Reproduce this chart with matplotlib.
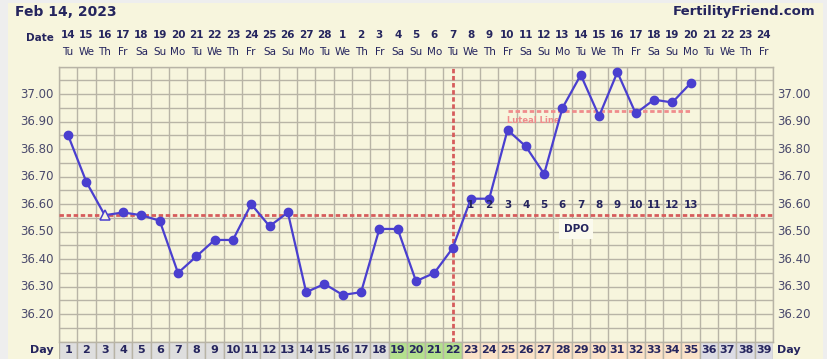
import matplotlib
matplotlib.use("Agg")
import matplotlib.pyplot as plt
from matplotlib.patches import Rectangle

# ---------------- data ----------------
days = list(range(1, 40))
dates = [str(d) for d in range(14, 29)] + [str(d) for d in range(1, 25)]
weekdays = (["Tu", "We", "Th", "Fr", "Sa", "Su", "Mo"] * 6)[:39]
temp_days = list(range(1, 36))
temps = [36.85, 36.68, 36.56, 36.57, 36.56, 36.54, 36.35, 36.41, 36.47, 36.47,
         36.60, 36.52, 36.57, 36.28, 36.31, 36.27, 36.28, 36.51, 36.51, 36.32,
         36.35, 36.44, 36.62, 36.62, 36.87, 36.81, 36.71, 36.95, 37.07, 36.92,
         37.08, 36.93, 36.98, 36.97, 37.04]
open_day = 3                      # hollow triangle marker
coverline = 36.56
ovulation_day = 22
luteal_start, luteal_end, luteal_value = 25, 35, 36.94
dpo_days = list(range(23, 36))
dpo_labels = [str(i) for i in range(1, 14)]
phase = ["grey"] * 18 + ["green"] * 4 + ["peach"] * 13 + ["grey2"] * 4
yticks = [36.20, 36.30, 36.40, 36.50, 36.60, 36.70, 36.80, 36.90, 37.00]

# ---------------- style ----------------
W, H = 828, 359
OUTER = "#eeeeee"
CREAM = "#f7f5dd"
GRID = "#b8b4a6"
NAVY = "#25255e"
TICK = "#4a4a6c"
LINE = "#4a3fcf"
RED = "#d65c5c"
PINK = "#f08c8c"
CELL = {"grey": "#dedede", "green": "#b4e08e", "peach": "#fbe2c8", "grey2": "#dcdce4"}
DASH = (0, (1.6, 0.95))

fig = plt.figure(figsize=(W / 100, H / 100), dpi=100)
fig.patch.set_facecolor(OUTER)
fig.patches.append(Rectangle((8 / W, 0), (823 - 8) / W, (H - 3) / H,
                             transform=fig.transFigure, facecolor=CREAM,
                             edgecolor="none", zorder=-5))

def fx(px):
    return px / W

def fy(py):
    return 1 - py / H

L, R, T, B = 59, 773, 66.7, 341.7
ax = fig.add_axes([fx(L), fy(B), (R - L) / W, (B - T) / H])
ax.set_zorder(2)
ax.set_facecolor(CREAM)
ax.set_xlim(0.5, 39.5)
ax.set_ylim(36.10, 37.10)
for s in ax.spines.values():
    s.set_color(GRID)
    s.set_linewidth(1.0)
ax.set_xticks([])
ax.set_yticks([])

for i in range(40):
    ax.axvline(0.5 + i, color=GRID, lw=1.0, zorder=1)
for k in range(21):
    ax.axhline(36.10 + 0.05 * k, color=GRID, lw=1.0, zorder=1)

for v in yticks:
    yp = B - (v - 36.10) / 1.0 * (B - T)
    fig.text(fx(54), fy(yp), f"{v:.2f}", ha="right", va="center",
             fontsize=8.5, color=TICK)
    fig.text(fx(777), fy(yp), f"{v:.2f}", ha="left", va="center",
             fontsize=8.5, color=TICK)

# reference lines
ax.axhline(coverline, color=RED, lw=2.0, ls=DASH, zorder=3)
ax.axvline(ovulation_day, color=RED, lw=2.0, ls=DASH, zorder=3)
ax.plot([luteal_start, luteal_end], [luteal_value, luteal_value], color=PINK,
        lw=2.0, ls=DASH, zorder=3)
ax.text(luteal_start - 0.05, 36.905, "Luteal Line", color=PINK, fontsize=6,
        fontweight="bold", ha="left", va="center", zorder=4)

# temperatures
ax.plot(temp_days, temps, color=LINE, lw=1.6, zorder=5)
cd = [d for d in temp_days if d != open_day]
ct = [t for d, t in zip(temp_days, temps) if d != open_day]
ax.plot(cd, ct, ls="none", marker="o", ms=6, color=LINE, zorder=6)
ax.plot([open_day], [temps[open_day - 1]], ls="none", marker="^", ms=6.5,
        mfc=CREAM, mec=LINE, mew=1.1, zorder=6)

# DPO numbers
for d, lab in zip(dpo_days, dpo_labels):
    ax.text(d, 36.596, lab, ha="center", va="center", fontsize=7.5,
            fontweight="bold", color=NAVY, zorder=7)
ax.text(28.75, 36.51, "DPO", ha="center", va="center", fontsize=7.5,
        fontweight="bold", color=NAVY, zorder=7,
        bbox=dict(boxstyle="square,pad=0.45", facecolor="#fbfaee",
                  edgecolor="none"))

# header
fig.text(fx(15), fy(12), "Feb 14, 2023", ha="left", va="center",
         fontsize=10, fontweight="bold", color=NAVY)
fig.text(fx(815), fy(12), "FertilityFriend.com", ha="right", va="center",
         fontsize=9.5, fontweight="bold", color=NAVY)
fig.text(fx(54), fy(38), "Date", ha="right", va="center", fontsize=7.5,
         fontweight="bold", color=NAVY)
for d, dt, wd in zip(days, dates, weekdays):
    xp = L + (d - 0.5) * (R - L) / 39
    fig.text(fx(xp), fy(35), dt, ha="center", va="center", fontsize=7.5,
             fontweight="bold", color=NAVY)
    fig.text(fx(xp), fy(52), wd, ha="center", va="center", fontsize=7.5,
             color=NAVY)

# day row
axd = fig.add_axes([fx(L), fy(H + 4), (R - L) / W, (H + 4 - B) / H])
axd.set_zorder(2)
axd.set_xlim(0.5, 39.5)
axd.set_ylim(0, 1)
axd.axis("off")
for d, ph in zip(days, phase):
    axd.add_patch(Rectangle((d - 0.5, 0), 1, 1, facecolor=CELL[ph],
                            edgecolor=GRID, lw=1.0))
    axd.text(d, 0.62, str(d), ha="center", va="center", fontsize=8,
             fontweight="bold", color=NAVY)
fig.text(fx(54), fy(350), "Day", ha="right", va="center", fontsize=8,
         fontweight="bold", color=NAVY)
fig.text(fx(777), fy(350), "Day", ha="left", va="center", fontsize=8,
         fontweight="bold", color=NAVY)

fig.savefig("out.png", dpi=100, facecolor=fig.get_facecolor())
